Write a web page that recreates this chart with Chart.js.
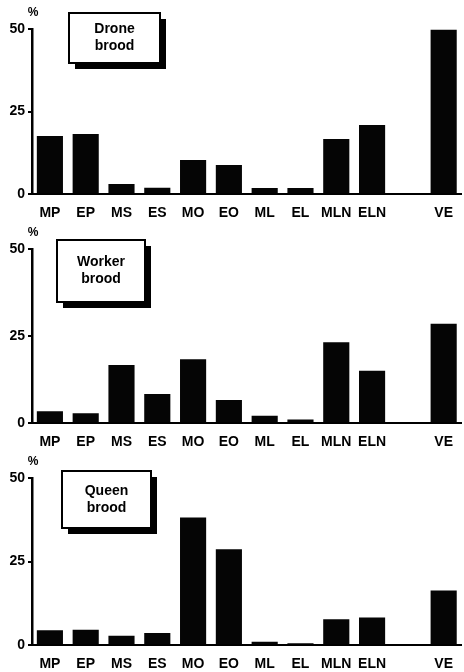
<!DOCTYPE html>
<html>
<head>
<meta charset="utf-8">
<script src="https://cdn.jsdelivr.net/npm/chart.js@4.4.1/dist/chart.umd.min.js"></script>
<style>
  html, body { margin: 0; padding: 0; background: #fff; }
  body { width: 464px; height: 672px; position: relative; overflow: hidden; }
  .panel { position: absolute; left: 0; width: 464px; }
</style>
</head>
<body>
<div class="panel" id="p1"><canvas id="c1"></canvas></div>
<div class="panel" id="p2"><canvas id="c2"></canvas></div>
<div class="panel" id="p3"><canvas id="c3"></canvas></div>
<script>
// ---- data ----
const categories = ['MP', 'EP', 'MS', 'ES', 'MO', 'EO', 'ML', 'EL', 'MLN', 'ELN', '', 'VE'];
const droneValues  = [17.6, 18.2, 3.0, 1.9, 10.3, 8.8, 1.8, 1.8, 16.7, 20.9, null, 49.8];
const workerValues = [3.4, 2.8, 16.7, 8.3, 18.3, 6.6, 2.1, 1.0, 23.2, 15.0, null, 28.5];
const queenValues  = [4.4, 4.6, 2.8, 3.6, 38.2, 28.7, 1.0, 0.5, 7.7, 8.2, null, 16.3];
const yTicks = [0, 25, 50];
const panelTitles = [['Drone', 'brood'], ['Worker', 'brood'], ['Queen', 'brood']];
const yUnit = '%';

// ---- layout (not data) ----
const layoutCfg = [
  { id: 'c1', div: 'p1', top: 0,   height: 222, padTop: 29, xh: 28, box: { x: 69, y: 13, w: 91, h: 50 }, values: droneValues },
  { id: 'c2', div: 'p2', top: 222, height: 227, padTop: 27, xh: 26, box: { x: 57, y: 18, w: 88, h: 62 }, values: workerValues },
  { id: 'c3', div: 'p3', top: 449, height: 223, padTop: 29, xh: 27, box: { x: 62, y: 22, w: 89, h: 57 }, values: queenValues }
];

const FONT = 'Liberation Sans, Arial, Helvetica, sans-serif';

function makeDecor(idx, cfg) {
  return {
    id: 'decor' + idx,
    afterDraw(chart) {
      const ctx = chart.ctx;
      const ca = chart.chartArea;
      ctx.save();
      // unit label
      ctx.fillStyle = '#000';
      ctx.font = 'bold 12px ' + FONT;
      ctx.textAlign = 'center';
      ctx.textBaseline = 'middle';
      ctx.fillText(yUnit, ca.left + 1, ca.top - 16);
      // box with shadow
      const b = cfg.box;
      ctx.fillStyle = '#000';
      ctx.fillRect(b.x + 6, b.y + 6, b.w, b.h);
      ctx.fillStyle = '#fff';
      ctx.fillRect(b.x, b.y, b.w, b.h);
      ctx.strokeStyle = '#000';
      ctx.lineWidth = 2;
      ctx.strokeRect(b.x, b.y, b.w, b.h);
      ctx.fillStyle = '#000';
      ctx.font = 'bold 14px ' + FONT;
      const lines = panelTitles[idx];
      const cx = b.x + b.w / 2;
      const cy = b.y + b.h / 2;
      ctx.fillText(lines[0], cx, cy - 8.5);
      ctx.fillText(lines[1], cx, cy + 8.5);
      ctx.restore();
    }
  };
}

layoutCfg.forEach((cfg, idx) => {
  const div = document.getElementById(cfg.div);
  div.style.top = cfg.top + 'px';
  div.style.height = cfg.height + 'px';
  const canvas = document.getElementById(cfg.id);
  canvas.width = 464; canvas.height = cfg.height;
  canvas.style.width = '464px'; canvas.style.height = cfg.height + 'px';
  new Chart(canvas, {
    type: 'bar',
    data: {
      labels: categories,
      datasets: [{
        data: cfg.values,
        backgroundColor: '#050505',
        borderWidth: 0,
        barPercentage: 0.73,
        categoryPercentage: 1.0
      }]
    },
    options: {
      responsive: false,
      animation: false,
      devicePixelRatio: 1,
      layout: { padding: { top: cfg.padTop, right: 0, left: 0, bottom: 0 } },
      plugins: { legend: { display: false }, tooltip: { enabled: false } },
      scales: {
        x: {
          grid: { display: false, drawTicks: false },
          border: { display: true, color: '#000', width: 2 },
          ticks: {
            autoSkip: false, maxRotation: 0, minRotation: 0, padding: 11,
            color: '#000', font: { family: FONT, weight: 'bold', size: 14 }
          },
          afterFit: (s) => { s.height = cfg.xh; }
        },
        y: {
          min: 0, max: 50,
          afterBuildTicks: (s) => { s.ticks = yTicks.map(v => ({ value: v })); },
          grid: { drawOnChartArea: false, drawTicks: true, tickLength: 4, color: '#000', lineWidth: 2 },
          border: { display: true, color: '#000', width: 2.5 },
          ticks: {
            padding: 3, color: '#000',
            font: { family: FONT, weight: 'bold', size: 14 }
          },
          afterFit: (s) => { s.width = 32; }
        }
      }
    },
    plugins: [makeDecor(idx, cfg)]
  });
});
</script>
</body>
</html>
